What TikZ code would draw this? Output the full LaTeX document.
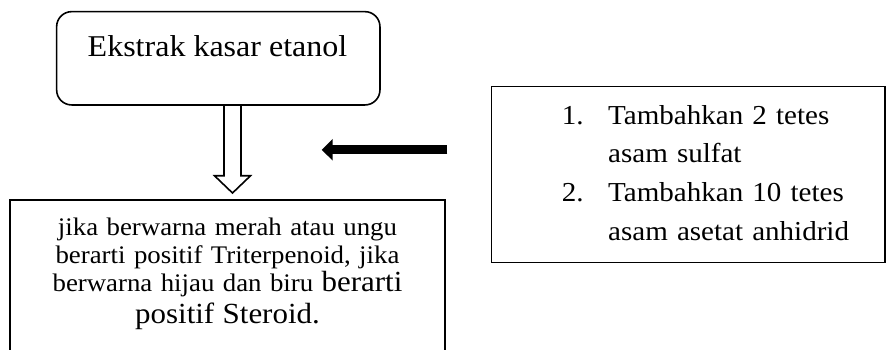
\documentclass[tikz,border=0pt]{standalone}
\usepackage{fontspec}
\setmainfont{Liberation Serif}[FakeStretch=1.06]
\usetikzlibrary{arrows.meta,calc}
\begin{document}
\begin{tikzpicture}[x=1pt,y=-1pt,
  boxline/.style={draw=black, line width=1.6pt, inner sep=0pt},
  topbox/.style={boxline, rounded corners=15pt, minimum width=323.3pt, minimum height=93.3pt},
  bottombox/.style={boxline, minimum width=435pt, minimum height=200pt, anchor=north},
  rightbox/.style={boxline, minimum width=393.3pt, minimum height=176pt, anchor=north west},
  txt/.style={inner sep=0pt, text=black},
  hollowarrow/.style={draw=black, line width=1.6pt, line join=miter},
  solidarrow/.style={draw=black, line width=9pt, -{Triangle[length=11pt,width=21pt]}}
]
\useasboundingbox (0,0) rectangle (887,349);
\fill[white] (0,0) rectangle (887,349);

\node[topbox] (top) at (218.3,58.3) {};
\node[txt, anchor=base, font=\fontsize{30.2}{36}\selectfont] (toptext) at (217.5,56.7) {Ekstrak kasar etanol};

\node[bottombox] (bottom) at (227.5,199.3) {};
\node[txt, anchor=base, text width=420pt, align=center, font=\fontsize{25.3}{28.4}\selectfont] (btext) at (227.5,235)
  {jika berwarna merah atau ungu\\
   berarti positif Triterpenoid, jika\\
   berwarna hijau dan biru {\fontsize{29.2}{28.4}\selectfont berarti}\\[3.2pt]
   {\fontsize{29.2}{28.4}\selectfont positif Steroid.}};

\node[rightbox] (rbox) at (490.7,85.7) {};
\node[txt, anchor=base west, text width=310pt, align=left, font=\fontsize{27.4}{38.6}\selectfont] (rtext) at (561.7,124.3)
  {\makebox[46.3pt][l]{1.}Tambahkan 2 tetes\\
   \hspace*{46.3pt}asam sulfat\\
   \makebox[46.3pt][l]{2.}Tambahkan 10 tetes\\
   \hspace*{46.3pt}asam asetat anhidrid};

% hollow arrow from top box to bottom box
\coordinate (hs) at ($(top.south)+(14.2,0)$);
\coordinate (ht) at ($(bottom.north)+(5,-6.3)$);
\draw[hollowarrow] ($(hs)+(-8.5,0)$) -- ($(hs)+(-8.5,70)$) -- ($(hs)+(-18,70)$) -- (ht)
  -- ($(hs)+(18,70)$) -- ($(hs)+(8.5,70)$) -- ($(hs)+(8.5,0)$);

% solid arrow
\coordinate (atail) at ($(rbox.west)+(-43.4,-24.7)$);
\coordinate (atip) at ($(atail)+(-125.6,0)$);
\draw[solidarrow] (atail) -- (atip);
\end{tikzpicture}
\end{document}
